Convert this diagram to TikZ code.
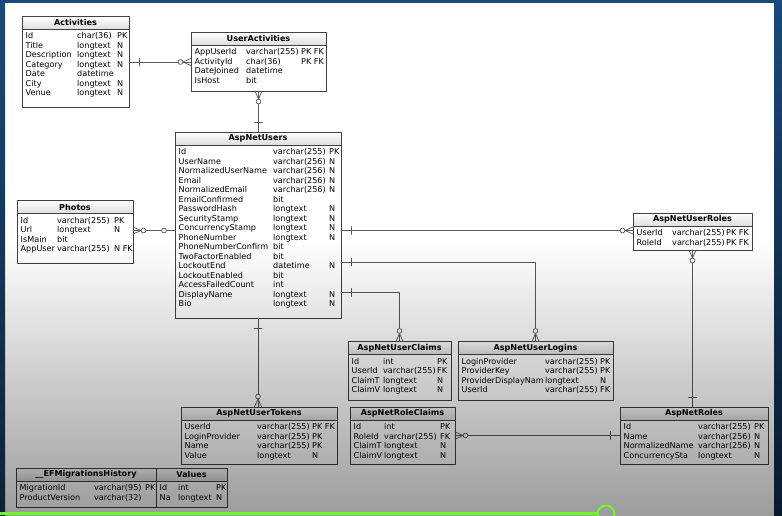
\documentclass[tikz,border=0pt]{standalone}
\usepackage{fontspec}
\setmainfont{DejaVu Sans}
\usetikzlibrary{calc}
\usetikzlibrary{fadings}

\definecolor{framebl}{RGB}{26,74,122}
\definecolor{hilite}{RGB}{110,250,40}
\tikzfading[name=darkdown, top color=transparent!100, bottom color=transparent!0]

\tikzset{
  tblhead/.style={draw=black!75, line width=0.8pt, top color=white, bottom color=black!13,
    inner sep=0pt, outer sep=0pt, minimum height=13pt, font=\bfseries\fontsize{8.1}{9.5}\selectfont},
  tblbody/.style={draw=black!75, line width=0.8pt, fill=white, inner sep=0pt, outer sep=0pt},
  tblrows/.style={inner sep=0pt, align=left, font=\fontsize{8.1}{9.5}\selectfont},
  link/.style={draw=black!65, line width=0.7pt},
  many/.pic={\draw[link] (0,-3.6) -- (8,0) -- (0,3.6); \draw[link, fill=white] (10.5,0) circle (2.4pt);},
  one/.pic={\draw[link] (10,-4) -- (10,4);},
  opt/.pic={\draw[link, fill=white] (11,0) circle (2.4pt);}
}

% table: name, left, top, right, bottom, title, column widths, rows
\newcommand{\ertable}[9]{%
  \def\cwa{#7pt}\def\cwb{#8pt}%
  \node[tblhead, anchor=north west, minimum width={(#4-#2)*1pt}] (#1-h) at (#2,#3) {#6};
  \node[tblbody, anchor=north west, minimum width={(#4-#2)*1pt}, minimum height={(#5-#3-13)*1pt}]
    (#1) at (#1-h.south west) {};
  \node[tblrows, anchor=north west] (#1-rows) at ([xshift=3.5pt,yshift=-2.8pt]#1.north west) {#9};
}
\newcommand{\rw}[3]{\strut\makebox[\cwa][l]{#1}\makebox[\cwb][l]{#2}#3}

\begin{document}
\begin{tikzpicture}[x=1pt,y=-1pt,line cap=round,line join=round]
  \useasboundingbox (0,0) rectangle (782,515);
  \fill[white] (0,0) rectangle (782,515);

  % tables
  \ertable{act}{22}{16}{129}{107}{Activities}{51.5}{40}{%
    \rw{Id}{char(36)}{PK}\\ \rw{Title}{longtext}{N}\\ \rw{Description}{longtext}{N}\\
    \rw{Category}{longtext}{N}\\ \rw{Date}{datetime}{}\\ \rw{City}{longtext}{N}\\
    \rw{Venue}{longtext}{N}}
  \ertable{ua}{191}{32}{326}{91}{UserActivities}{51.5}{55}{%
    \rw{AppUserId}{varchar(255)}{PK FK}\\ \rw{ActivityId}{char(36)}{PK FK}\\
    \rw{DateJoined}{datetime}{}\\ \rw{IsHost}{bit}{}}
  \ertable{users}{175}{132}{341}{318}{AspNetUsers}{94.5}{56}{%
    \rw{Id}{varchar(255)}{PK}\\ \rw{UserName}{varchar(256)}{N}\\
    \rw{NormalizedUserName}{varchar(256)}{N}\\ \rw{Email}{varchar(256)}{N}\\
    \rw{NormalizedEmail}{varchar(256)}{N}\\ \rw{EmailConfirmed}{bit}{}\\
    \rw{PasswordHash}{longtext}{N}\\ \rw{SecurityStamp}{longtext}{N}\\
    \rw{ConcurrencyStamp}{longtext}{N}\\ \rw{PhoneNumber}{longtext}{N}\\
    \rw{PhoneNumberConfirm}{bit}{}\\ \rw{TwoFactorEnabled}{bit}{}\\
    \rw{LockoutEnd}{datetime}{N}\\ \rw{LockoutEnabled}{bit}{}\\
    \rw{AccessFailedCount}{int}{}\\ \rw{DisplayName}{longtext}{N}\\
    \rw{Bio}{longtext}{N}}
  \ertable{photos}{17}{200.5}{133}{263}{Photos}{36.5}{57}{%
    \rw{Id}{varchar(255)}{PK}\\ \rw{Url}{longtext}{N}\\ \rw{IsMain}{bit}{}\\
    \rw{AppUser}{varchar(255)}{N FK}}
  \ertable{ur}{633}{213}{752}{250}{AspNetUserRoles}{35.5}{54}{%
    \rw{UserId}{varchar(255)}{PK FK}\\ \rw{RoleId}{varchar(255)}{PK FK}}
  \ertable{claims}{348}{341.5}{451}{400}{AspNetUserClaims}{31.5}{54}{%
    \rw{Id}{int}{PK}\\ \rw{UserId}{varchar(255)}{FK}\\ \rw{ClaimT}{longtext}{N}\\
    \rw{ClaimV}{longtext}{N}}
  \ertable{logins}{458}{341.5}{613}{400}{AspNetUserLogins}{83.5}{55}{%
    \rw{LoginProvider}{varchar(255)}{PK}\\ \rw{ProviderKey}{varchar(255)}{PK}\\
    \rw{ProviderDisplayNam}{longtext}{N}\\ \rw{UserId}{varchar(255)}{FK}}
  \ertable{tokens}{181}{407}{337}{464}{AspNetUserTokens}{72.5}{55}{%
    \rw{UserId}{varchar(255)}{PK FK}\\ \rw{LoginProvider}{varchar(255)}{PK}\\
    \rw{Name}{varchar(255)}{PK}\\ \rw{Value}{longtext}{N}}
  \ertable{rc}{350}{407}{455}{464}{AspNetRoleClaims}{30.5}{56}{%
    \rw{Id}{int}{PK}\\ \rw{RoleId}{varchar(255)}{FK}\\ \rw{ClaimT}{longtext}{N}\\
    \rw{ClaimV}{longtext}{N}}
  \ertable{roles}{620}{407}{768}{464}{AspNetRoles}{74.5}{56}{%
    \rw{Id}{varchar(255)}{PK}\\ \rw{Name}{varchar(256)}{N}\\
    \rw{NormalizedName}{varchar(256)}{N}\\ \rw{ConcurrencySta}{longtext}{N}}
  \ertable{ef}{16}{468}{156}{507}{\_\_EFMigrationsHistory}{74.5}{51}{%
    \rw{MigrationId}{varchar(95)}{PK}\\ \rw{ProductVersion}{varchar(32)}{}}
  \ertable{vals}{156}{468}{227}{507}{Values}{18.5}{38}{%
    \rw{Id}{int}{PK}\\ \rw{Na}{longtext}{N}}

  % link rows
  \coordinate (row-activity) at (0,62);
  \coordinate (row-userid) at (0,230.5);
  \coordinate (row-logins) at (0,262);
  \coordinate (row-claims) at (0,292.5);
  \coordinate (row-roleid) at (0,435.5);

  % links
  \draw[link] (act.east |- row-activity) -- (ua.west |- row-activity);
  \pic at (act.east |- row-activity) {one};
  \pic[rotate=180] at (ua.west |- row-activity) {many};

  \draw[link] (ua.south) -- (ua.south |- users-h.north);
  \pic[rotate=-90] at (ua.south) {many};
  \pic[rotate=90] at (ua.south |- users-h.north) {one};

  \draw[link] (photos.east |- row-userid) -- (users.west |- row-userid);
  \pic at (photos.east |- row-userid) {many};
  \pic[rotate=180] at (users.west |- row-userid) {opt};

  \draw[link] (users.east |- row-userid) -- (ur.west |- row-userid);
  \pic at (users.east |- row-userid) {one};
  \pic[rotate=180] at (ur.west |- row-userid) {many};

  \draw[link] (users.east |- row-logins) -| (logins-h.north);
  \pic at (users.east |- row-logins) {one};
  \pic[rotate=90] at (logins-h.north) {many};

  \draw[link] (users.east |- row-claims) -| (claims-h.north);
  \pic at (users.east |- row-claims) {one};
  \pic[rotate=90] at (claims-h.north) {many};

  \draw[link] (users.south) -- (users.south |- tokens-h.north);
  \pic[rotate=-90] at (users.south) {one};
  \pic[rotate=90] at (users.south |- tokens-h.north) {many};

  \draw[link] (ur.south) -- (ur.south |- roles-h.north);
  \pic[rotate=-90] at (ur.south) {many};
  \pic[rotate=90] at (ur.south |- roles-h.north) {one};

  \draw[link] (rc.east |- row-roleid) -- (roles.west |- row-roleid);
  \pic at (rc.east |- row-roleid) {many};
  \pic[rotate=180] at (roles.west |- row-roleid) {one};

  % shade at the bottom
  \fill[black, path fading=darkdown, fill opacity=0.52] (0,240) rectangle (782,610);

  % frame
  \shade[top color=framebl, bottom color=framebl!45!black] (0,0) rectangle (5,515);
  \shade[top color=framebl, bottom color=framebl!35!black] (774,0) rectangle (782,515);
  \fill[framebl] (0,0) rectangle (782,3);
  \draw[hilite, line width=2.5pt, line cap=butt] (0,513.5) -- (597,513.5);
  \draw[hilite, line width=2pt] (606,514) circle (8.5pt);
\end{tikzpicture}
\end{document}
